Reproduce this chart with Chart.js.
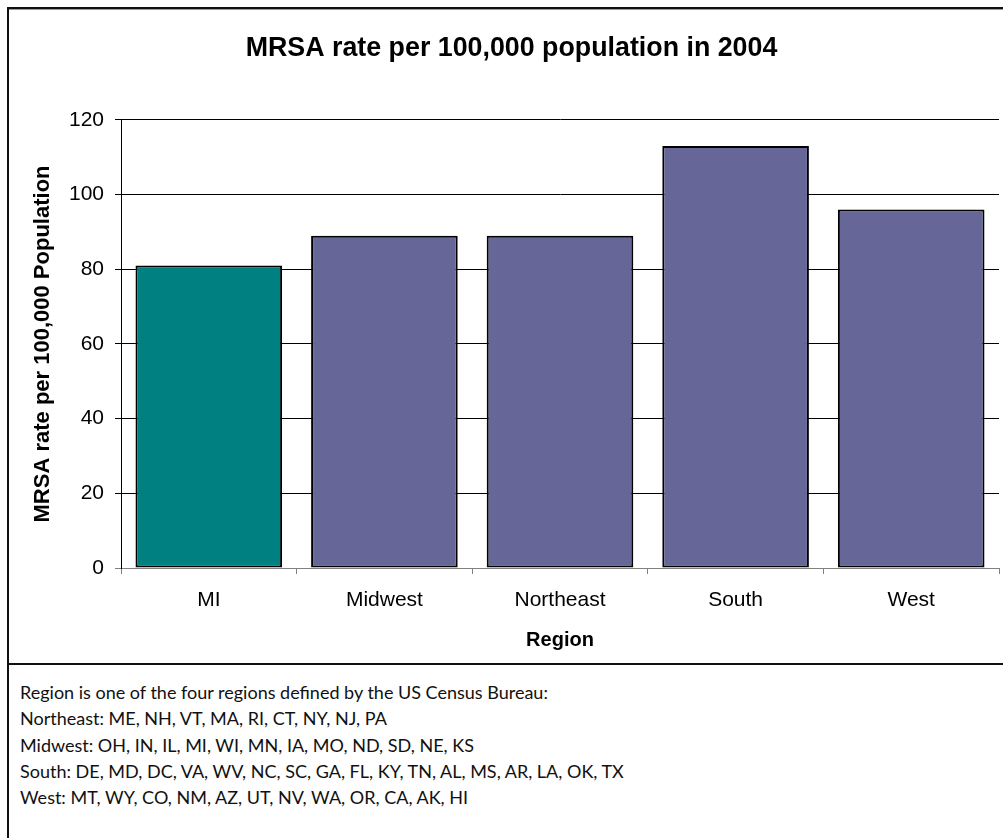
<!DOCTYPE html>
<html>
<head>
<meta charset="utf-8">
<title>MRSA rate per 100,000 population in 2004</title>
<script src="https://cdn.jsdelivr.net/npm/chart.js@4"></script>
<style>
  html, body { margin: 0; padding: 0; background: #ffffff; }
  #page { position: relative; width: 1003px; height: 838px; overflow: hidden; background: #ffffff; }
  #chartBox { position: absolute; left: 0; top: 0; width: 1003px; height: 664px; }
  #frameTop { position: absolute; left: 7px; top: 7px; width: 996px; height: 2px; background: #111; box-shadow: 0 1px 0 #999; }
  #frameLeft { position: absolute; left: 7px; top: 7px; width: 2px; height: 831px; background: #111; }
  #frameMid { position: absolute; left: 7px; top: 663px; width: 996px; height: 2px; background: #111; }
  #notes {
    position: absolute; left: 20px; top: 679px;
    font-family: Lato, "Open Sans", "Liberation Sans", sans-serif;
    font-size: 18px; line-height: 26.3px; color: #111; white-space: nowrap;
  }
</style>
</head>
<body>
<div id="page">
  <div id="chartBox"><canvas id="chart" width="1003" height="664"></canvas></div>
  <div id="frameTop"></div>
  <div id="frameLeft"></div>
  <div id="frameMid"></div>
  <div id="notes"></div>
</div>
<script>
// Regions and their 2004 MRSA rates per 100,000 population
const regions = ["MI", "Midwest", "Northeast", "South", "West"];
const rates = [81, 89, 89, 113, 96];
const barColors = ["#008080", "#666699", "#666699", "#666699", "#666699"];
const yTicks = [0, 20, 40, 60, 80, 100, 120];

const chartTitle = "MRSA rate per 100,000 population in 2004";
const yTitle = "MRSA rate per 100,000 Population";
const xTitle = "Region";

const noteLines = [
  "Region is one of the four regions defined by the US Census Bureau:",
  "Northeast: ME, NH, VT, MA, RI, CT, NY, NJ, PA",
  "Midwest: OH, IN, IL, MI, WI, MN, IA, MO, ND, SD, NE, KS",
  "South: DE, MD, DC, VA, WV, NC, SC, GA, FL, KY, TN, AL, MS, AR, LA, OK, TX",
  "West: MT, WY, CO, NM, AZ, UT, NV, WA, OR, CA, AK, HI"
];

const notes = document.getElementById("notes");
noteLines.forEach(t => {
  const d = document.createElement("div");
  d.textContent = t;
  notes.appendChild(d);
});

const FONT = "'Liberation Sans', Arial, sans-serif";

new Chart(document.getElementById("chart"), {
  type: "bar",
  data: {
    labels: regions,
    datasets: [{
      data: rates,
      backgroundColor: barColors,
      borderColor: "#000000",
      borderWidth: 2,
      borderSkipped: false,
      barPercentage: 0.835,
      categoryPercentage: 1.0
    }]
  },
  options: {
    responsive: false,
    animation: false,
    devicePixelRatio: 1,
    layout: { padding: { left: 24, right: 4, top: 0, bottom: 0 } },
    plugins: {
      legend: { display: false },
      tooltip: { enabled: false },
      title: {
        display: true,
        text: chartTitle,
        color: "#000000",
        font: { family: FONT, size: 26.8, weight: "bold", lineHeight: 1.2 },
        padding: { top: 32.5, bottom: 55.3 }
      }
    },
    scales: {
      x: {
        grid: {
          display: true,
          offset: true,
          drawOnChartArea: false,
          drawTicks: true,
          tickLength: 6,
          color: "#808080"
        },
        border: { display: true, color: "#808080", width: 1 },
        ticks: {
          color: "#000000",
          font: { family: FONT, size: 21 },
          padding: 14,
          maxRotation: 0
        },
        title: {
          display: true,
          text: xTitle,
          color: "#000000",
          font: { family: FONT, size: 20, weight: "bold", lineHeight: 1.2 },
          padding: { top: 0, bottom: 12 }
        },
        afterFit(scale) { scale.height = 96; }
      },
      y: {
        min: 0,
        max: 120,
        afterBuildTicks(scale) { scale.ticks = yTicks.map(v => ({ value: v })); },
        grid: {
          color: ctx => (ctx.tick && ctx.tick.value === 0) ? "#808080" : "#000000",
          lineWidth: 1,
          drawTicks: true,
          tickLength: 6
        },
        border: { display: true, color: "#000000", width: 1 },
        ticks: {
          color: "#000000",
          font: { family: FONT, size: 21 },
          padding: 11
        },
        title: {
          display: true,
          text: yTitle,
          color: "#000000",
          font: { family: FONT, size: 22, weight: "bold", lineHeight: 1.2 },
          padding: { top: 5.8, bottom: 0 }
        },
        afterFit(scale) { scale.width = 97; }
      }
    }
  }
});
</script>
</body>
</html>
